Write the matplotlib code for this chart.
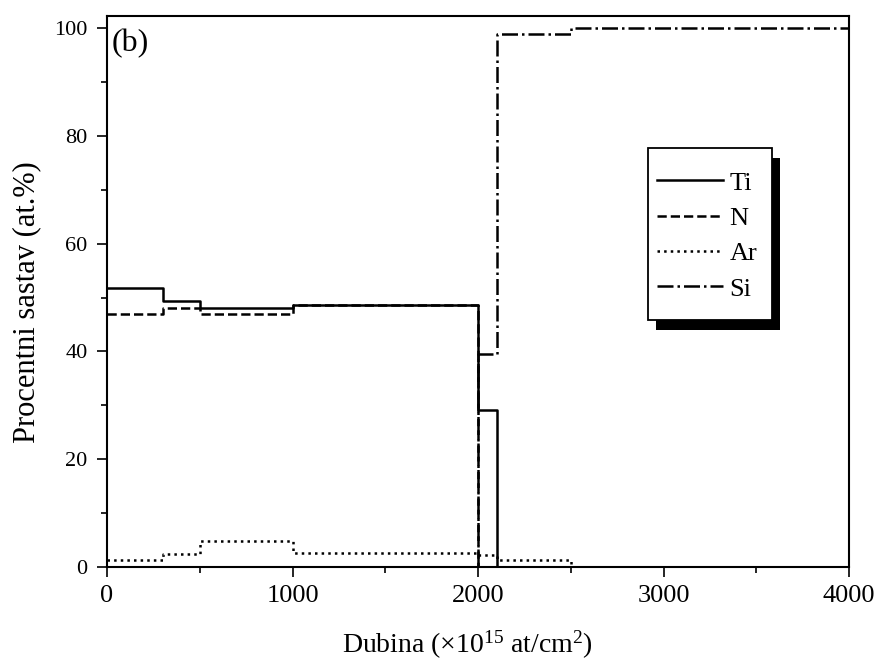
import matplotlib
matplotlib.use("Agg")
import matplotlib.pyplot as plt
from matplotlib.patches import Rectangle
from matplotlib.ticker import MultipleLocator

plt.rcParams['font.family'] = ['Liberation Serif', 'DejaVu Serif']
plt.rcParams['mathtext.fontset'] = 'custom'
plt.rcParams['mathtext.rm'] = 'Liberation Serif'
plt.rcParams['mathtext.it'] = 'Liberation Serif:italic'

# Data (depth segment boundaries, x10^15 at/cm^2) and step values (at.%)
depth_edges = [0, 300, 500, 1000, 2000, 2100, 2500, 4000]
ti = [51.7, 49.3, 48.1, 48.7, 29.1, 0.0, 0.0]
n = [47.0, 48.0, 47.0, 48.7, 0.0, 0.0, 0.0]
ar = [1.3, 2.5, 4.8, 2.7, 2.2, 1.3, 0.0]
si = [0.0, 0.0, 0.0, 0.0, 39.5, 98.8, 100.0]
labels = ['Ti', 'N', 'Ar', 'Si']
x_ticks = [0, 1000, 2000, 3000, 4000]
y_ticks = [0, 20, 40, 60, 80, 100]

fig = plt.figure(figsize=(8.8, 6.64), dpi=100)
ax = fig.add_axes([0.1216, 0.146, 0.8432, 0.8305])

styles = ['-', '--', ':', '-.']
for vals, lab, ls in zip([ti, n, ar, si], labels, styles):
    ax.step(depth_edges, vals + [vals[-1]], where='post', color='black',
            lw=1.8, ls=ls, label=lab)

ax.set_xlim(0, 4000)
ax.set_ylim(0, 102.3)
ax.set_xticks(x_ticks)
ax.set_yticks(y_ticks)
ax.xaxis.set_minor_locator(MultipleLocator(500))
ax.yaxis.set_minor_locator(MultipleLocator(10))
ax.tick_params(which='both', direction='out', top=False, right=False,
               width=1.2)
ax.tick_params(axis='x', labelsize=19, pad=6)
ax.tick_params(axis='y', labelsize=16, pad=7)
ax.tick_params(which='major', length=7)
ax.tick_params(which='minor', length=4.5)
for sp in ax.spines.values():
    sp.set_linewidth(1.5)

ax.set_xlabel('Dubina (×10$^{15}$ at/cm$^{2}$)', fontsize=20)
ax.xaxis.set_label_coords(0.485, -0.112)
ax.set_ylabel('Procentni sastav (at.%)', fontsize=22)
ax.yaxis.set_label_coords(-0.088, 0.48)
ax.text(0.006, 0.950, '(b)', transform=ax.transAxes, fontsize=23,
        va='center', ha='left')

# Legend: frame and shadow drawn as patches, entries placed inside
fx0, fx1, fy0, fy1 = 0.729, 0.896, 0.448, 0.760
shadow = Rectangle((fx0 + 0.011, fy0 - 0.019), fx1 - fx0, fy1 - fy0,
                   transform=ax.transAxes, facecolor='black',
                   edgecolor='none', zorder=8, clip_on=False)
frame = Rectangle((fx0, fy0), fx1 - fx0, fy1 - fy0,
                  transform=ax.transAxes, facecolor='white',
                  edgecolor='black', lw=1.3, zorder=9, clip_on=False)
ax.add_patch(shadow)
ax.add_patch(frame)

leg = ax.legend(loc='upper left', bbox_to_anchor=(0.741, 0.718),
                borderaxespad=0, borderpad=0, frameon=False, fontsize=19,
                handlelength=2.5, handletextpad=0.25, labelspacing=0.45)
leg.set_zorder(10)

fig.savefig('out.png', dpi=100)
